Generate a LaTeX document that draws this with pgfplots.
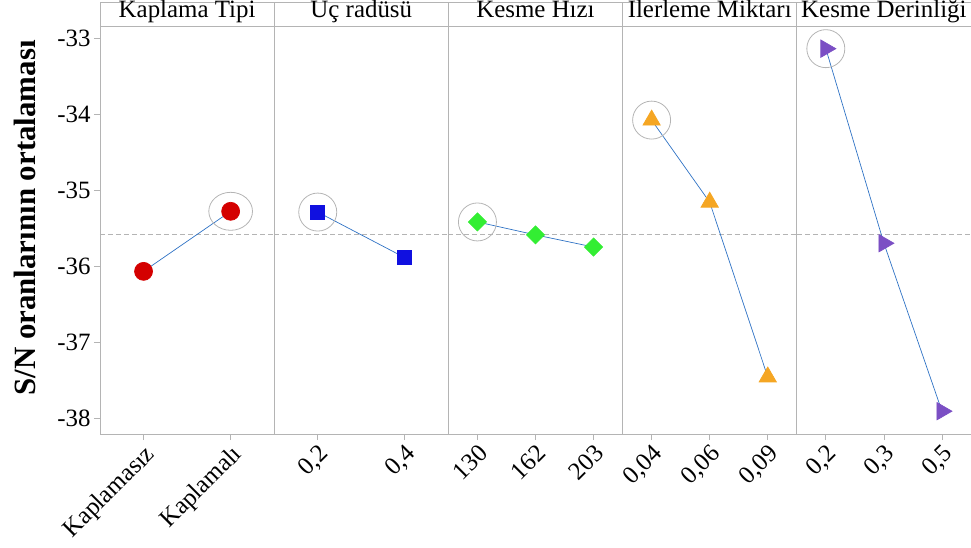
\documentclass[border=0pt]{standalone}
\usepackage{fontspec}
\setmainfont{Liberation Serif}
\usepackage{pgfplots}
\pgfplotsset{compat=1.18}
\usepgfplotslibrary{groupplots}

\definecolor{frame}{HTML}{B4B4B4}
\definecolor{cred}{HTML}{D40000}
\definecolor{cblue}{HTML}{1010E0}
\definecolor{cgreen}{HTML}{33EE33}
\definecolor{corange}{HTML}{F5A623}
\definecolor{cpurple}{HTML}{7B4FC4}
\definecolor{conn}{HTML}{2E72C4}

\pgfplotsset{
  meanline/.style={dashed, dash pattern=on 5bp off 3bp, color=frame, line width=0.8pt, forget plot},
  hilite/.style={only marks, mark=o, mark size=19bp, mark options={draw=frame, line width=0.8pt, #1}},
  hilite/.default={},
  effect/.style={conn, line width=0.7pt},
}

\newcommand{\headerline}{\draw[frame, line width=0.8pt] (rel axis cs:0,0.9444) -- (rel axis cs:1,0.9444);}

\begin{document}
\begin{tikzpicture}
\begin{groupplot}[
  group style={group size=5 by 1, horizontal sep=0pt, group name=g},
  width=174.2bp, height=432bp, scale only axis,
  ymin=-38.21, ymax=-32.526,
  axis line style={frame, line width=0.8pt},
  tick style={frame, line width=0.8pt},
  major tick length=6bp,
  tick align=outside,
  xtick pos=bottom, ytick pos=left,
  ytick=\empty,
  tick label style={font=\fontsize{25}{30}\selectfont},
  xticklabel style={rotate=45, anchor=north east, inner sep=2pt},
  title style={at={(0.5,0.951)}, anchor=base, inner sep=0pt, text height=18bp,
    font=\fontsize{25}{30}\selectfont},
]
% Kaplama Tipi
\nextgroupplot[xmin=0.5, xmax=2.5, xtick={1,2}, xticklabels={Kaplamasız,Kaplamalı},
  title={Kaplama Tipi},
  ytick={-38,-37,-36,-35,-34,-33}, yticklabels={-38,-37,-36,-35,-34,-33},
  ylabel={S/N oranlarının ortalaması},
  ylabel style={at={(axis description cs:-0.43,0.5)}, anchor=center, font=\fontsize{31}{36}\selectfont\bfseries}]
\addplot[meanline] coordinates {(0.5,-35.59) (2.5,-35.59)};
\addplot[hilite={xscale=1.15}] coordinates {(2,-35.28)};
\addplot[effect, mark=*, mark size=9bp, mark options={solid, fill=cred, draw=cred}] coordinates {(1,-36.07) (2,-35.28)};
\headerline
% Uç radüsü
\nextgroupplot[xmin=0.5, xmax=2.5, xtick={1,2}, xticklabels={{0,2},{0,4}}, title={Uç radüsü}]
\addplot[meanline] coordinates {(0.5,-35.59) (2.5,-35.59)};
\addplot[hilite] coordinates {(1,-35.29)};
\addplot[effect, mark=square*, mark size=7bp, mark options={solid, fill=cblue, draw=cblue}] coordinates {(1,-35.29) (2,-35.89)};
\headerline
% Kesme Hızı
\nextgroupplot[xmin=0.5, xmax=3.5, xtick={1,2,3}, xticklabels={130,162,203}, title={Kesme Hızı}]
\addplot[meanline] coordinates {(0.5,-35.59) (3.5,-35.59)};
\addplot[hilite] coordinates {(1,-35.42)};
\addplot[effect, mark=square*, mark size=6.4bp, mark options={solid, rotate=45, fill=cgreen, draw=cgreen}] coordinates {(1,-35.42) (2,-35.59) (3,-35.75)};
\headerline
% İlerleme Miktarı
\nextgroupplot[xmin=0.5, xmax=3.5, xtick={1,2,3}, xticklabels={{0,04},{0,06},{0,09}}, title={İlerleme Miktarı}]
\addplot[meanline] coordinates {(0.5,-35.59) (3.5,-35.59)};
\addplot[hilite] coordinates {(1,-34.08)};
\addplot[effect, mark=triangle*, mark size=10bp, mark options={solid, fill=corange, draw=corange}] coordinates {(1,-34.08) (2,-35.16) (3,-37.46)};
\headerline
% Kesme Derinliği
\nextgroupplot[xmin=0.5, xmax=3.5, xtick={1,2,3}, xticklabels={{0,2},{0,3},{0,5}}, title={Kesme Derinliği}]
\addplot[meanline] coordinates {(0.5,-35.59) (3.5,-35.59)};
\addplot[hilite] coordinates {(1,-33.14)};
\addplot[effect, mark=triangle*, mark size=10bp, mark options={solid, rotate=-90, fill=cpurple, draw=cpurple}] coordinates {(1,-33.14) (2,-35.70) (3,-37.91)};
\headerline
\end{groupplot}
\pgfresetboundingbox
\path (g c1r1.south west) ++(-100bp,-114bp) rectangle ++(971bp,548bp);
\end{tikzpicture}
\end{document}
